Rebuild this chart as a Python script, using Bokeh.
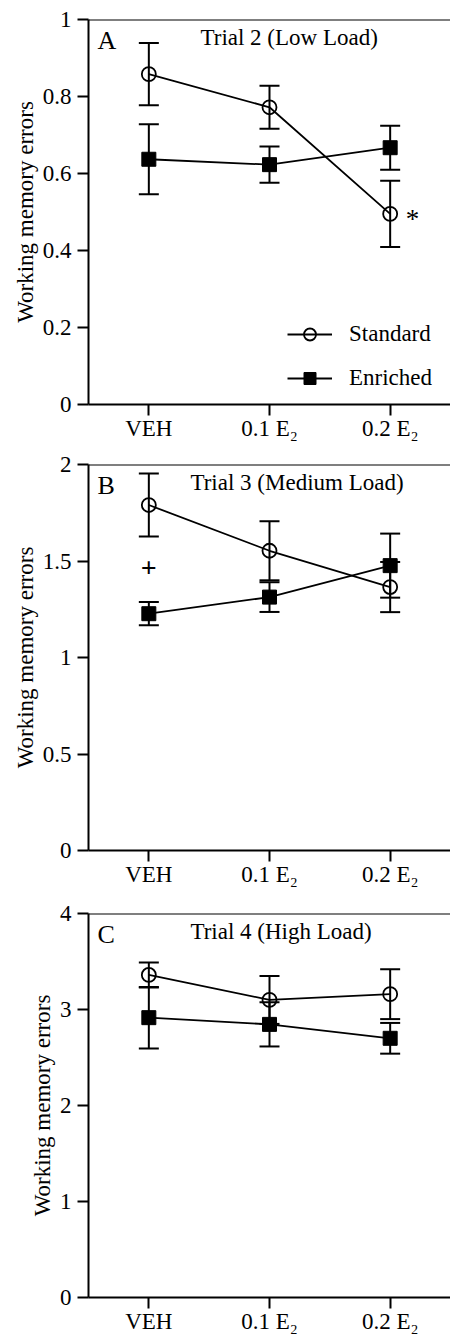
from bokeh.plotting import figure
from bokeh.layouts import column
from bokeh.models import (ColumnDataSource, FactorRange, Range1d, Whisker, TeeHead,
                          Label, Span, FixedTicker, NumeralTickFormatter, Legend, LegendItem)
from bokeh.embed import file_html
from bokeh.resources import INLINE

FONT = "Liberation Serif"

# ---- data ----
doses = ["VEH", "0.1 E\u2082", "0.2 E\u2082"]

a_standard = [0.858, 0.772, 0.495]
a_standard_err = [0.081, 0.056, 0.086]
a_enriched = [0.637, 0.623, 0.667]
a_enriched_err = [0.091, 0.047, 0.057]
a_yticks = [0, 0.2, 0.4, 0.6, 0.8, 1]

b_standard = [1.79, 1.553, 1.365]
b_standard_err = [0.163, 0.153, 0.13]
b_enriched = [1.227, 1.313, 1.476]
b_enriched_err = [0.06, 0.077, 0.166]
b_yticks = [0, 0.5, 1, 1.5, 2]

c_standard = [3.36, 3.10, 3.16]
c_standard_err = [0.13, 0.25, 0.26]
c_enriched = [2.915, 2.845, 2.70]
c_enriched_err = [0.32, 0.23, 0.16]
c_yticks = [0, 1, 2, 3, 4]

titles = ["Trial 2 (Low Load)", "Trial 3 (Medium Load)", "Trial 4 (High Load)"]
letters = ["A", "B", "C"]
series_names = ["Standard", "Enriched"]


def panel(letter, title, title_x, ymax, yticks, std, std_err, enr, enr_err,
          height, top, frame_h, legend=False, marks=()):
    src = ColumnDataSource(dict(
        x=doses,
        std=std, su=[m + e for m, e in zip(std, std_err)], sl=[m - e for m, e in zip(std, std_err)],
        enr=enr, eu=[m + e for m, e in zip(enr, enr_err)], el=[m - e for m, e in zip(enr, enr_err)],
    ))
    p = figure(x_range=FactorRange(factors=doses), y_range=Range1d(0, ymax),
               width=450, height=height, output_backend="svg", toolbar_location=None,
               min_border_left=88, min_border_right=0, min_border_top=top, min_border_bottom=39)
    p.outline_line_color = None
    p.grid.visible = False
    p.background_fill_color = "white"
    p.border_fill_color = "white"

    for ax in (p.xaxis[0], p.yaxis[0]):
        ax.axis_line_width = 2
        ax.axis_line_color = "black"
        ax.major_tick_line_width = 2
        ax.major_tick_line_color = "black"
        ax.major_tick_in = 0
        ax.major_tick_out = 11
        ax.minor_tick_line_color = None
        ax.major_label_text_font = FONT
        ax.major_label_text_font_size = "23px"
        ax.major_label_text_color = "black"
    p.xaxis.major_label_standoff = 0
    p.yaxis.major_label_standoff = 6
    p.yaxis.ticker = FixedTicker(ticks=yticks)
    p.yaxis.formatter = NumeralTickFormatter(format="0.[0]")
    p.yaxis.axis_label = "Working memory errors"
    p.yaxis.axis_label_text_font = FONT
    p.yaxis.axis_label_text_font_size = "23px"
    p.yaxis.axis_label_text_font_style = "normal"
    p.yaxis.axis_label_text_color = "black"
    p.yaxis.axis_label_standoff = 2

    p.add_layout(Span(location=ymax, dimension="width", line_color="black", line_width=2))

    for up, lo in (("su", "sl"), ("eu", "el")):
        p.add_layout(Whisker(source=src, base="x", upper=up, lower=lo,
                             line_color="black", line_width=2,
                             upper_head=TeeHead(size=20, line_width=2, line_color="black"),
                             lower_head=TeeHead(size=20, line_width=2, line_color="black")))

    l1 = p.line("x", "std", source=src, line_color="black", line_width=1.8)
    s1 = p.scatter("x", "std", source=src, marker="circle", size=14,
                   fill_color=None, line_color="black", line_width=1.8)
    l2 = p.line("x", "enr", source=src, line_color="black", line_width=1.8)
    s2 = p.scatter("x", "enr", source=src, marker="square", size=14,
                   fill_color="black", line_color="black", line_width=1)

    px = ymax / frame_h
    p.add_layout(Label(x=0.075, y=ymax - 21 * px, text=letter, text_font=FONT,
                       text_font_size="26px", text_baseline="middle", text_align="left",
                       text_color="#000000"))
    p.add_layout(Label(x=title_x, y=ymax - 18 * px, text=title, text_font=FONT,
                       text_font_size="23px", text_baseline="middle", text_align="left",
                       text_color="#000000"))
    for txt, mx, my, fs, style in marks:
        p.add_layout(Label(x=mx, y=my, text=txt, text_font=FONT, text_font_size=fs,
                           text_font_style=style, text_baseline="middle",
                           text_align="center", text_color="#000000"))

    if legend:
        lg = Legend(items=[LegendItem(label=series_names[0], renderers=[l1, s1]),
                           LegendItem(label=series_names[1], renderers=[l2, s2])],
                    location=(199, 11), glyph_width=45, glyph_height=30, label_standoff=17,
                    spacing=14, padding=0, margin=0, border_line_color=None,
                    background_fill_alpha=0, label_text_font=FONT,
                    label_text_font_size="23px", label_text_color="black")
        p.add_layout(lg)
    return p


pa = panel(letters[0], titles[0], 0.928, 1, a_yticks, a_standard, a_standard_err,
           a_enriched, a_enriched_err, height=443, top=19, frame_h=385, legend=True,
           marks=[("*", 2.685, 0.483, "27px", "normal")])
pb = panel(letters[1], titles[1], 0.845, 2, b_yticks, b_standard, b_standard_err,
           b_enriched, b_enriched_err, height=446, top=21, frame_h=386,
           marks=[("+", 0.5, 1.463, "28px", "bold")])
pc = panel(letters[2], titles[2], 0.845, 4, c_yticks, c_standard, c_standard_err,
           c_enriched, c_enriched_err, height=447, top=24, frame_h=384)

layout = column(pa, pb, pc, spacing=0)
open("out.html", "w").write(file_html(layout, INLINE))
